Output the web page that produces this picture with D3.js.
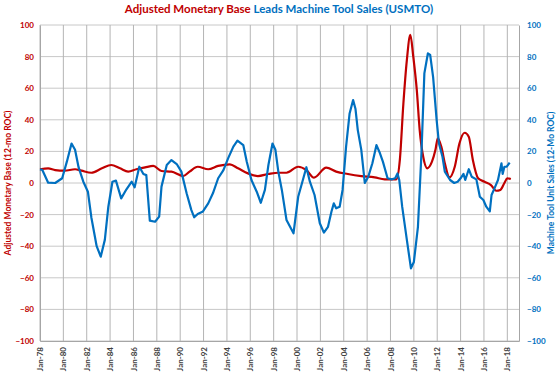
<!DOCTYPE html>
<html>
<head>
<meta charset="utf-8">
<script src="https://cdn.jsdelivr.net/npm/d3@7"></script>
<style>
  body { margin: 0; background: #fff; }
  text { font-family: Lato, "Open Sans", sans-serif; font-weight: bold; }
</style>
</head>
<body>
<div id="chart"></div>
<script>
// values, dates as decimal years
var baseYears = [1978.0, 1978.7, 1979.3, 1980.1, 1981.0, 1981.55, 1982.4, 1983.3, 1984.1, 1984.85,
    1985.55, 1986.25, 1987.0, 1987.7, 1988.4, 1989.25, 1990.25, 1990.8, 1991.5, 1992.4,
    1993.25, 1994.25, 1994.95, 1995.8, 1996.65, 1997.55, 1998.4, 1999.1, 2000.1, 2000.8,
    2001.45, 2002.5, 2003.35, 2004.35, 2005.5, 2006.65, 2007.5, 2008.5, 2008.8, 2009.1,
    2009.4, 2009.7, 2009.95, 2010.25, 2010.5, 2010.8, 2011.15, 2011.55, 2011.85, 2012.05,
    2012.35, 2012.65, 2013.05, 2013.5, 2013.9, 2014.35, 2014.7, 2015.05, 2015.5, 2016.05,
    2016.6, 2017.05, 2017.4, 2017.75, 2018.0, 2018.3];
var baseValues = [8.7, 9.3, 8.2, 7.8, 8.7, 7.8, 6.5, 9.3, 11.4, 9.3,
    7.2, 8.7, 9.9, 10.8, 7.6, 7.2, 4.4, 7.2, 10.3, 8.7,
    10.8, 11.8, 9.3, 6.1, 4.4, 5.7, 6.5, 6.5, 10.3, 8.2,
    3.4, 9.7, 7.2, 5.7, 4.4, 3.6, 2.3, 2.3, 14.6, 50,
    77.8, 93.7, 80, 58.9, 33.5, 16.6, 9.3, 13.5, 21, 28.3,
    23, 12.5, 3.6, 10.3, 25, 31.8, 29.3, 14.6, 3, 0.8,
    -1.3, -4.9, -4.4, 0, 3, 2.5];

var toolYears = [1978.0, 1978.2, 1978.7, 1979.3, 1979.9, 1980.3, 1980.7, 1981.0, 1981.3, 1981.7,
    1982.1, 1982.4, 1982.85, 1983.2, 1983.55, 1983.85, 1984.2, 1984.5, 1984.95, 1985.4,
    1985.85, 1986.1, 1986.5, 1986.85, 1987.1, 1987.4, 1987.85, 1988.2, 1988.4, 1988.85,
    1989.25, 1989.7, 1990.1, 1990.55, 1990.95, 1991.2, 1991.5, 1991.95, 1992.4, 1992.8,
    1993.25, 1993.7, 1994.1, 1994.55, 1994.9, 1995.4, 1995.7, 1996.1, 1996.55, 1996.9,
    1997.25, 1997.55, 1997.9, 1998.15, 1998.4, 1998.7, 1999.1, 1999.7, 2000.1, 2000.5,
    2000.8, 2001.1, 2001.5, 2001.95, 2002.3, 2002.65, 2002.95, 2003.15, 2003.35, 2003.65,
    2003.9, 2004.2, 2004.5, 2004.8, 2005.0, 2005.2, 2005.5, 2005.8, 2006.1, 2006.45,
    2006.8, 2007.1, 2007.35, 2007.75, 2008.1, 2008.4, 2008.6, 2008.75, 2009.0, 2009.4,
    2009.75, 2010.0, 2010.35, 2010.65, 2010.9, 2011.2, 2011.4, 2011.65, 2011.95, 2012.15,
    2012.45, 2012.65, 2013.1, 2013.45, 2013.75, 2014.0, 2014.25, 2014.4, 2014.7, 2014.95,
    2015.35, 2015.65, 2015.95, 2016.2, 2016.5, 2016.65, 2016.9, 2017.2, 2017.5, 2017.6,
    2017.75, 2017.95, 2018.2];
var toolValues = [8.7, 8.2, 0.2, 0, 3, 13.5, 25, 21, 10, 1,
    -5.5, -22, -40, -46.6, -36, -15, 0.8, 1.5, -9.7, -4,
    0.8, -2.7, 10.3, 5.7, 5, -23.8, -24.5, -21.3, -2.3, 11.4,
    14.5, 12, 7.2, -6.5, -17, -21.7, -19.6, -18, -12.9, -6.5,
    3, 8.2, 15.6, 23, 26.8, 24, 13.5, 1.9, -5.5, -12.5,
    -4.4, 11.4, 25, 21, 7.2, -4.4, -23.4, -31.8, -8.7, 1.9,
    10, 0.8, -7.6, -25.5, -31.4, -27.7, -18, -12.9, -16, -15,
    -4.4, 23, 44, 52.5, 47, 33.5, 21, 0, 4, 12.5,
    24, 18.8, 13.5, 3, 2.3, 3, 6, 1.9, -15, -36,
    -54, -50, -27.7, 18.8, 69.4, 82, 81, 67, 40, 25,
    16.6, 7.2, 1.9, 0, 0.8, 3, 5.7, 1.9, 8.7, 4,
    2.3, -8.7, -10.8, -15, -18, -7.6, -3.4, 1.9, 12.5, 5.7,
    10.3, 10.3, 12.9];

var yTicks = [-100, -80, -60, -40, -20, 0, 20, 40, 60, 80, 100];
var xTickYears = d3.range(1978, 2019, 2);

var width = 560, height = 374;
var margin = {top: 25, right: 41, bottom: 33, left: 40};
var red = "#c00000", blue = "#0070c0";

function toDate(y) {
    var yr = Math.floor(y);
    var start = new Date(yr, 0, 1), end = new Date(yr + 1, 0, 1);
    return new Date(+start + (y - yr) * (end - start));
}

var svg = d3.select("#chart").append("svg")
    .attr("width", width)
    .attr("height", height);

var x = d3.scaleTime()
    .domain([new Date(1978, 0, 1), new Date(2019, 0, 1)])
    .range([margin.left, width - margin.right]);
var yLeft = d3.scaleLinear().domain([-100, 100]).range([height - margin.bottom, margin.top]);
var yRight = d3.scaleLinear().domain([-100, 100]).range([height - margin.bottom, margin.top]);

// gridlines
svg.append("g")
    .selectAll("line.h")
    .data(yTicks)
    .enter().append("line")
    .attr("x1", margin.left).attr("x2", width - margin.right)
    .attr("y1", function (d) { return yLeft(d); })
    .attr("y2", function (d) { return yLeft(d); })
    .attr("stroke", "#c8c8c8").attr("stroke-width", 1);

svg.append("g")
    .selectAll("line.v")
    .data(xTickYears)
    .enter().append("line")
    .attr("x1", function (d) { return x(new Date(d, 0, 1)); })
    .attr("x2", function (d) { return x(new Date(d, 0, 1)); })
    .attr("y1", margin.top).attr("y2", height - margin.bottom)
    .attr("stroke", "#b4b4b4").attr("stroke-width", 1);

// axes
var leftAxis = svg.append("g")
    .attr("transform", "translate(" + margin.left + ",0)")
    .call(d3.axisLeft(yLeft).tickValues(yTicks).tickSize(0).tickPadding(6));
leftAxis.select(".domain").attr("stroke", "#a6a6a6");
leftAxis.selectAll("text").attr("fill", red).style("font-size", "8px");

var rightAxis = svg.append("g")
    .attr("transform", "translate(" + (width - margin.right) + ",0)")
    .call(d3.axisRight(yRight).tickValues(yTicks).tickSize(0).tickPadding(8));
rightAxis.select(".domain").attr("stroke", "#a6a6a6");
rightAxis.selectAll("text").attr("fill", blue).style("font-size", "8px");

var bottomAxis = svg.append("g")
    .attr("transform", "translate(0," + (height - margin.bottom) + ")")
    .call(d3.axisBottom(x)
        .tickValues(xTickYears.map(function (d) { return new Date(d, 0, 1); }))
        .tickFormat(d3.timeFormat("Jan-%y"))
        .tickSize(0));
bottomAxis.select(".domain").attr("stroke", "#a6a6a6");
bottomAxis.selectAll("text")
    .attr("fill", "#404040")
    .style("font-size", "8px")
    .attr("transform", "rotate(-90)")
    .attr("text-anchor", "end")
    .attr("x", -6).attr("y", 0).attr("dy", "0.32em");

// lines
var lineBase = d3.line()
    .x(function (d) { return x(toDate(d[0])); })
    .y(function (d) { return yLeft(d[1]); })
    .curve(d3.curveMonotoneX);
var lineTool = d3.line()
    .x(function (d) { return x(toDate(d[0])); })
    .y(function (d) { return yRight(d[1]); });

svg.append("path")
    .datum(d3.zip(baseYears, baseValues))
    .attr("d", lineBase)
    .attr("fill", "none").attr("stroke", red).attr("stroke-width", 2.2);

svg.append("path")
    .datum(d3.zip(toolYears, toolValues))
    .attr("d", lineTool)
    .attr("fill", "none").attr("stroke", blue).attr("stroke-width", 2.2)
    .attr("stroke-linejoin", "round");

// title
var title = svg.append("text")
    .attr("x", 279).attr("y", 13)
    .attr("text-anchor", "middle")
    .style("font-size", "11.5px");
title.append("tspan").attr("fill", red).text("Adjusted Monetary Base");
title.append("tspan").attr("fill", blue).text(" Leads Machine Tool Sales (USMTO)");

// axis titles
svg.append("text")
    .attr("transform", "translate(11,183) rotate(-90)")
    .attr("text-anchor", "middle")
    .attr("fill", red)
    .style("font-size", "8.5px")
    .text("Adjusted Monetary Base (12-mo ROC)");

svg.append("text")
    .attr("transform", "translate(554,183) rotate(-90)")
    .attr("text-anchor", "middle")
    .attr("fill", blue)
    .style("font-size", "8.5px")
    .text("Machine Tool Unit Sales (12-Mo ROC)");
</script>
</body>
</html>
